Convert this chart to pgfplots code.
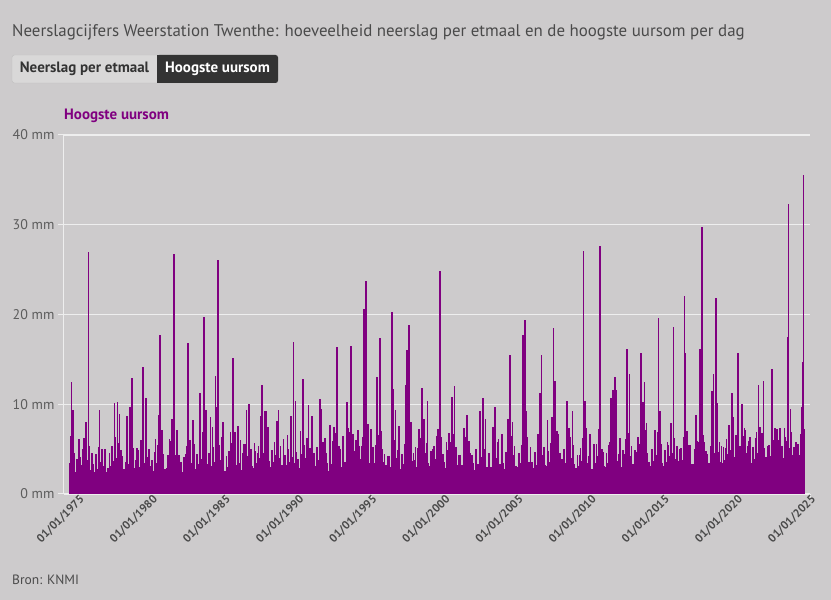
\documentclass[border=0pt]{standalone}
\usepackage{pgfplots}
\pgfplotsset{compat=1.18}
\usepackage{pgfplotstable}
\usepackage{fontspec}
\setmainfont{PT Sans}
\definecolor{bg}{HTML}{CDCBCC}
\definecolor{pur}{HTML}{800080}
\definecolor{gridc}{HTML}{EEEEEE}
\definecolor{txt}{HTML}{4A4A4A}
\definecolor{btn}{HTML}{D9D8D8}
\definecolor{btnd}{HTML}{333333}

% background (typical daily maxima), one value per 0.1 year from 1974.4
\pgfplotstableread[row sep=\\]{
y\\
3.4\\5.8\\2.9\\4.6\\2.5\\3.9\\
2.6\\4.1\\3.2\\5.0\\2.9\\6.1\\3.8\\5.4\\2.7\\4.4\\
3.3\\2.4\\4.5\\2.8\\5.2\\3.6\\4.8\\3.1\\4.2\\2.5\\
2.9\\4.6\\3.1\\5.3\\3.7\\6.4\\4.0\\5.7\\3.2\\4.9\\
4.2\\2.8\\3.6\\5.8\\3.3\\6.6\\4.4\\5.1\\2.9\\3.8\\
2.7\\4.9\\3.0\\4.4\\5.6\\3.5\\6.8\\4.1\\5.0\\3.1\\
3.8\\2.6\\4.7\\3.4\\5.5\\4.0\\6.3\\3.6\\4.5\\2.8\\
2.9\\4.3\\3.5\\5.9\\3.2\\5.0\\4.3\\6.5\\3.4\\4.0\\
3.6\\2.5\\4.1\\3.0\\5.4\\3.9\\6.0\\3.5\\5.2\\2.7\\
2.8\\4.5\\3.3\\5.1\\3.9\\6.9\\4.2\\5.6\\3.3\\4.6\\
4.0\\3.1\\5.2\\3.6\\6.1\\4.4\\5.5\\3.8\\4.9\\3.0\\
2.6\\4.2\\3.0\\4.8\\3.4\\5.7\\4.1\\6.2\\3.2\\4.5\\
3.5\\2.7\\4.6\\3.3\\5.6\\4.2\\6.7\\4.5\\5.0\\3.1\\
2.9\\4.8\\3.5\\5.4\\4.0\\6.3\\4.6\\7.1\\3.7\\4.9\\
3.7\\3.0\\4.9\\3.6\\5.8\\4.3\\6.5\\4.0\\5.3\\3.2\\
2.7\\4.4\\3.2\\5.0\\3.6\\6.0\\4.1\\6.6\\3.4\\4.7\\
3.9\\2.9\\4.5\\3.4\\5.5\\4.0\\6.2\\4.3\\5.1\\3.0\\
2.8\\4.6\\3.1\\5.2\\3.8\\6.4\\4.2\\5.8\\3.5\\4.3\\
3.4\\2.6\\4.8\\3.3\\5.9\\4.5\\6.8\\4.1\\5.4\\3.3\\
3.0\\5.0\\3.6\\5.7\\4.2\\6.9\\4.7\\6.1\\3.8\\4.8\\
4.1\\3.2\\5.3\\3.9\\6.3\\4.6\\7.2\\4.4\\5.6\\3.5\\
2.9\\4.7\\3.4\\5.5\\4.1\\6.6\\4.3\\7.0\\3.6\\4.5\\
3.2\\2.5\\4.2\\3.0\\5.1\\3.8\\6.0\\4.0\\4.9\\2.8\\
2.8\\4.5\\3.3\\5.6\\4.0\\6.8\\4.5\\7.3\\3.7\\4.6\\
3.8\\3.0\\5.1\\3.7\\6.2\\4.4\\6.9\\4.6\\5.7\\3.4\\
3.1\\4.8\\3.4\\5.3\\3.9\\6.5\\4.2\\6.0\\3.5\\4.4\\
3.6\\2.9\\4.9\\3.5\\5.8\\4.3\\6.7\\4.1\\5.2\\3.2\\
2.9\\4.4\\3.2\\5.4\\3.8\\6.3\\4.4\\5.9\\3.4\\4.3\\
3.5\\2.7\\4.6\\3.3\\5.7\\4.1\\6.6\\4.5\\5.0\\3.0\\
2.8\\4.2\\3.0\\4.9\\3.6\\5.6\\4.0\\6.1\\3.3\\4.1\\
3.4\\2.8\\4.7\\3.5\\5.9\\4.2\\6.5\\4.3\\5.3\\3.1\\
3.0\\4.6\\3.4\\5.5\\4.0\\6.8\\4.6\\6.3\\3.6\\4.4\\
3.6\\2.9\\4.4\\3.2\\5.4\\4.0\\6.9\\4.4\\5.2\\3.2\\
3.1\\4.8\\3.6\\5.7\\4.2\\6.6\\4.5\\7.0\\3.8\\4.6\\
3.7\\3.0\\5.0\\3.5\\6.0\\4.3\\6.4\\4.0\\5.5\\3.3\\
2.9\\4.3\\3.1\\5.1\\3.7\\6.2\\4.1\\5.8\\3.4\\4.2\\
3.5\\2.8\\4.7\\3.4\\5.6\\4.2\\6.7\\4.4\\5.0\\3.1\\
3.0\\4.6\\3.5\\5.8\\4.1\\6.9\\4.7\\6.4\\3.7\\4.5\\
3.8\\3.0\\4.9\\3.6\\6.1\\4.4\\6.8\\4.2\\5.4\\3.3\\
3.2\\4.7\\3.4\\5.6\\4.0\\6.5\\4.5\\7.1\\3.8\\4.6\\
3.6\\3.1\\5.0\\3.7\\6.0\\4.3\\6.9\\4.5\\5.6\\3.4\\
3.1\\4.9\\3.6\\5.5\\4.2\\6.7\\4.6\\6.2\\3.9\\4.5\\
3.7\\3.2\\5.1\\3.8\\6.3\\4.5\\7.0\\4.3\\5.5\\3.3\\
3.3\\5.0\\3.7\\5.9\\4.4\\7.2\\4.8\\6.6\\4.0\\4.8\\
3.9\\3.4\\5.3\\4.0\\6.4\\4.6\\7.3\\4.7\\5.8\\3.6\\
3.4\\5.1\\3.8\\6.1\\4.5\\6.9\\4.9\\7.4\\4.1\\5.0\\
4.0\\3.5\\5.4\\4.1\\6.5\\4.8\\7.1\\4.6\\5.9\\3.7\\
3.5\\5.2\\3.9\\6.2\\4.6\\7.3\\5.0\\6.8\\4.2\\5.1\\
4.1\\3.6\\5.5\\4.2\\6.6\\4.9\\7.4\\4.8\\6.0\\3.8\\
3.6\\5.3\\4.0\\6.3\\4.7\\7.5\\5.1\\6.9\\4.3\\5.2\\
4.2\\3.7\\5.6\\4.3\\6.7\\5.0\\7.2\\
}\bgdata

% individual peaks (year, mm)
\pgfplotstableread[row sep=\\]{
x y\\
1974.47 6.5\\ 1974.52 12.5\\ 1974.63 9.4\\ 1975.02 6.1\\ 1975.36 6.2\\ 1975.52 8.0\\ 1975.68 27.0\\ 1975.93 4.6\\
1976.43 9.4\\ 1976.61 5.0\\ 1976.79 5.0\\ 1977.12 4.2\\ 1977.45 10.1\\ 1977.66 10.3\\ 1977.80 8.9\\
1978.32 8.7\\ 1978.50 9.7\\ 1978.64 12.9\\ 1978.98 5.1\\ 1979.25 6.0\\ 1979.41 14.1\\ 1979.59 10.7\\
1980.26 6.1\\ 1980.46 8.8\\ 1980.57 17.7\\ 1980.71 7.1\\ 1981.21 6.1\\ 1981.39 8.4\\ 1981.53 26.7\\ 1981.71 7.1\\ 1981.85 4.4\\
1982.35 4.5\\ 1982.49 16.8\\ 1982.81 8.3\\ 1982.90 5.6\\ 1983.28 11.3\\ 1983.58 19.7\\ 1983.72 9.4\\
1984.01 8.6\\ 1984.15 7.5\\ 1984.35 13.2\\ 1984.47 9.7\\ 1984.54 26.1\\ 1984.76 6.3\\ 1984.86 8.0\\
1985.38 6.9\\ 1985.54 15.2\\ 1985.70 6.9\\ 1985.88 7.6\\ 1986.06 6.0\\ 1986.29 5.6\\ 1986.47 9.4\\ 1986.65 10.0\\ 1986.81 4.6\\
1987.02 5.7\\ 1987.24 4.6\\ 1987.43 8.7\\ 1987.56 12.2\\ 1987.72 9.3\\ 1987.84 9.2\\ 1987.97 7.5\\
1988.54 8.1\\ 1988.66 9.4\\ 1989.00 6.1\\ 1989.27 6.6\\ 1989.54 8.7\\ 1989.68 16.9\\ 1989.82 10.4\\
1990.16 7.0\\ 1990.36 12.8\\ 1990.71 9.9\\ 1990.96 8.7\\
1991.48 10.6\\ 1991.59 9.5\\ 1991.82 6.2\\ 1991.93 4.6\\ 1992.18 7.7\\ 1992.46 7.5\\ 1992.64 16.4\\ 1992.87 5.0\\
1993.07 6.5\\ 1993.35 10.2\\ 1993.44 7.4\\ 1993.60 16.5\\ 1993.78 6.7\\ 1993.96 6.0\\
1994.10 7.1\\ 1994.35 5.4\\ 1994.51 20.6\\ 1994.64 23.7\\ 1994.80 7.8\\ 1994.99 7.2\\
1995.12 5.2\\ 1995.40 13.0\\ 1995.58 17.4\\ 1995.76 5.0\\ 1996.13 4.2\\ 1996.44 20.3\\ 1996.51 11.7\\ 1996.67 9.4\\ 1996.90 7.6\\
1997.15 4.5\\ 1997.38 12.1\\ 1997.47 16.1\\ 1997.58 18.8\\ 1997.74 8.0\\
1998.04 5.2\\ 1998.29 7.2\\ 1998.47 11.8\\ 1998.61 8.4\\ 1998.86 10.4\\
1999.06 4.8\\ 1999.20 5.0\\ 1999.56 7.2\\ 1999.70 24.9\\ 1999.77 6.3\\ 1999.93 4.5\\
2000.15 5.8\\ 2000.34 6.8\\ 2000.52 10.8\\ 2000.70 12.0\\ 2001.02 4.3\\ 2001.36 7.4\\ 2001.55 8.8\\ 2001.75 4.6\\
2002.16 5.0\\ 2002.43 9.3\\ 2002.64 10.7\\ 2002.82 8.4\\ 2003.05 4.6\\ 2003.32 7.5\\ 2003.46 9.7\\ 2003.69 5.8\\ 2003.96 6.7\\
2004.35 8.4\\ 2004.50 15.5\\ 2004.66 8.0\\ 2005.37 17.7\\ 2005.50 19.4\\ 2005.62 9.3\\ 2005.89 5.2\\
2006.19 4.7\\ 2006.42 6.7\\ 2006.53 11.3\\ 2006.64 15.5\\ 2006.83 4.3\\
2007.05 8.3\\ 2007.35 8.6\\ 2007.46 18.5\\ 2007.58 12.6\\ 2007.80 6.7\\ 2008.06 3.9\\
2008.37 10.4\\ 2008.53 7.3\\ 2008.76 9.2\\ 2009.26 4.3\\ 2009.51 27.1\\ 2009.60 10.4\\ 2009.72 7.4\\ 2009.94 6.7\\
2010.24 5.6\\ 2010.54 7.2\\ 2010.65 27.6\\ 2010.86 4.7\\
2011.27 5.5\\ 2011.40 10.7\\ 2011.54 11.6\\ 2011.65 13.0\\ 2011.74 11.6\\
2012.02 6.2\\ 2012.29 4.5\\ 2012.47 16.2\\ 2012.65 13.4\\
2013.04 4.9\\ 2013.25 6.4\\ 2013.47 15.7\\ 2013.59 10.2\\ 2013.68 12.5\\ 2013.82 7.9\\
2014.18 4.0\\ 2014.41 7.1\\ 2014.64 19.6\\ 2014.75 9.2\\
2015.05 4.9\\ 2015.25 5.8\\ 2015.48 7.9\\ 2015.66 18.6\\ 2015.91 5.3\\
2016.12 5.0\\ 2016.41 22.1\\ 2016.46 15.7\\ 2016.64 5.5\\ 2016.91 3.2\\
2017.23 8.8\\ 2017.35 5.8\\ 2017.50 16.2\\ 2017.57 11.1\\ 2017.64 29.7\\ 2017.75 5.8\\ 2017.98 4.5\\
2018.19 4.8\\ 2018.32 11.5\\ 2018.41 13.4\\ 2018.55 21.8\\ 2018.67 10.1\\ 2018.94 5.3\\
2019.08 5.2\\ 2019.28 5.1\\ 2019.46 7.7\\ 2019.67 11.3\\ 2019.78 8.6\\ 2019.94 6.6\\
2020.10 15.7\\ 2020.24 4.7\\ 2020.37 10.0\\ 2020.53 7.3\\ 2020.72 5.3\\ 2020.90 6.3\\
2021.06 4.7\\ 2021.34 6.9\\ 2021.47 12.2\\ 2021.58 7.5\\ 2021.83 12.6\\
2022.15 5.3\\ 2022.38 13.9\\ 2022.56 6.0\\ 2022.75 7.2\\ 2022.97 7.4\\
2023.25 7.3\\ 2023.41 5.9\\ 2023.48 17.5\\ 2023.54 32.3\\ 2023.66 9.5\\
2024.02 5.8\\ 2024.16 5.6\\ 2024.43 9.7\\ 2024.52 14.7\\ 2024.56 35.5\\
}\spikes

\begin{document}
\begin{tikzpicture}[x=1pt,y=1pt]
\fill[bg] (0,0) rectangle (831,600);
\node[anchor=base west, inner sep=0, text=txt, font=\fontsize{16.9}{19}\selectfont] at (12,563)
  {Neerslagcijfers Weerstation Twenthe: hoeveelheid neerslag per etmaal en de hoogste uursom per dag};
% buttons
\draw[fill=btn, draw=black!25, rounded corners=2.5pt] (12,517) rectangle (278,545);
\fill[btnd, rounded corners=2.5pt] (157,517) rectangle (278,545);
\fill[btnd] (157,517) rectangle (162,545);
\node[text=btnd, font=\fontsize{15}{17}\selectfont\bfseries] at (84.5,531) {Neerslag per etmaal};
\node[text=white, font=\fontsize{15}{17}\selectfont\bfseries] at (217.5,531) {Hoogste uursom};
\node[anchor=base west, inner sep=0, text=pur, font=\fontsize{15}{17}\selectfont\bfseries] at (64,480) {Hoogste uursom};
\node[anchor=base west, inner sep=0, text=txt, font=\fontsize{13.5}{16}\selectfont] at (12,15) {Bron: KNMI};
\begin{axis}[
  at={(64pt,106pt)}, anchor=south west, scale only axis,
  width=746pt, height=359pt,
  xmin=1974, xmax=2025, ymin=0, ymax=40,
  axis x line*=bottom, axis y line*=left,
  axis line style={gridc, line width=1pt, -},
  ymajorgrids, grid style={gridc, line width=1.2pt},
  ytick={0,10,20,30,40},
  yticklabels={0 mm,10 mm,20 mm,30 mm,40 mm},
  xtick={1975,1980,1985,1990,1995,2000,2005,2010,2015,2020,2025},
  xticklabels={01/01/1975,01/01/1980,01/01/1985,01/01/1990,01/01/1995,01/01/2000,01/01/2005,01/01/2010,01/01/2015,01/01/2020,01/01/2025},
  tick align=outside, major tick length=6pt,
  tick style={gridc, line width=1pt},
  yticklabel style={text=txt!90, font=\fontsize{14}{16}\selectfont},
  xticklabel style={text=txt, font=\fontsize{11.5}{13}\selectfont\bfseries, rotate=45, anchor=east, xshift=8pt, yshift=-1pt},
  clip=true,
]
\addplot[ycomb, pur, line width=1.6pt, mark=none] table[x expr=1974.4+0.1*\coordindex, y=y] {\bgdata};
\addplot[ycomb, pur, line width=1.7pt, mark=none] table[x=x, y=y] {\spikes};
\end{axis}
\pgfresetboundingbox
\useasboundingbox (0,0) rectangle (831,600);
\end{tikzpicture}
\end{document}
